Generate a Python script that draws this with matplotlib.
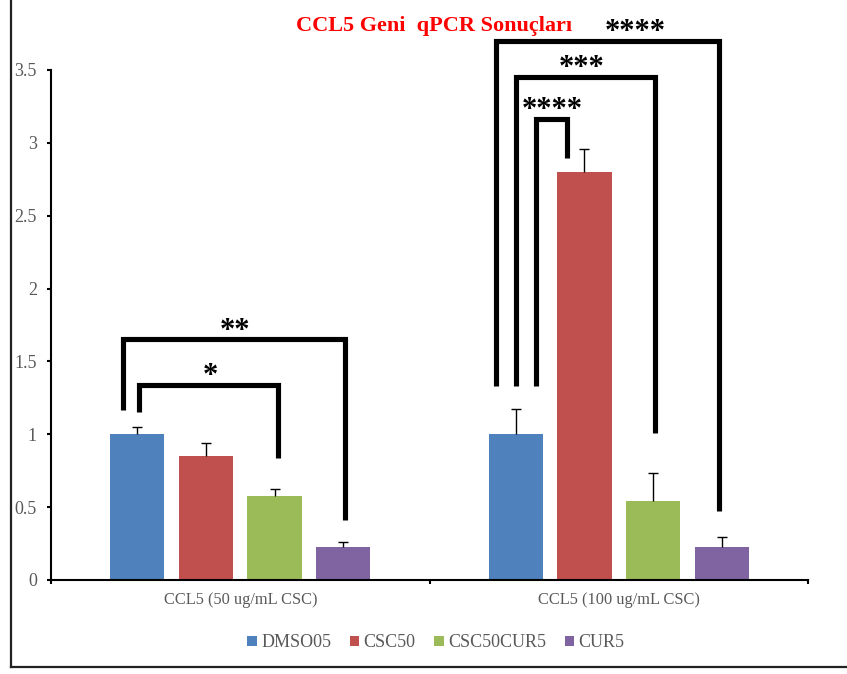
import matplotlib
matplotlib.use("Agg")
import matplotlib.pyplot as plt
from matplotlib.patches import Patch
from matplotlib.lines import Line2D
import numpy as np

# Data
categories = ["CCL5 (50 ug/mL CSC)", "CCL5 (100 ug/mL CSC)"]
series = ["DMSO05", "CSC50", "CSC50CUR5", "CUR5"]
colors = ["#4F81BD", "#C0504D", "#9BBB59", "#8064A2"]
values = {
    "DMSO05":    [1.00, 1.00],
    "CSC50":     [0.85, 2.80],
    "CSC50CUR5": [0.575, 0.545],
    "CUR5":      [0.228, 0.228],
}
errors = {
    "DMSO05":    [0.052, 0.172],
    "CSC50":     [0.090, 0.160],
    "CSC50CUR5": [0.052, 0.188],
    "CUR5":      [0.035, 0.065],
}
ytick_values = [0, 0.5, 1, 1.5, 2, 2.5, 3, 3.5]
ytick_labels = ["0", "0.5", "1", "1.5", "2", "2.5", "3", "3.5"]

# Significance brackets: (group, left bar, right bar, top level, left end, right end, label)
brackets = [
    (0, 0, 3, 1.652, 1.167, 0.412, "**"),
    (0, 0, 2, 1.338, 1.155, 0.835, "*"),
    (1, 0, 3, 3.701, 1.331, 0.474, "****"),
    (1, 0, 2, 3.452, 1.331, 1.011, "***"),
    (1, 0, 1, 3.164, 1.331, 2.898, "****"),
]
# small horizontal nudges of bracket legs and labels (data units)
leg_nudges = [(-0.038, 0.004), (0.004, 0.008), (-0.054, -0.006), (0.0, 0.004), (0.054, -0.045)]
label_x = [-0.014, -0.080, 1.043, 0.902, 0.8255]

SERIF = "Liberation Serif"
GRAY = "#595959"

fig = plt.figure(figsize=(8.47, 6.74), dpi=100)
ax = fig.add_axes([51 / 847, 94 / 674, 757 / 847, 510 / 674])

x = np.arange(len(categories))
width = 0.1427
pitch = 0.181


def bar_center(g, i):
    return x[g] + (i - 1.5) * pitch


for i, s in enumerate(series):
    xs = x + (i - 1.5) * pitch
    ax.bar(xs, values[s], width=width, color=colors[i], linewidth=0, zorder=2)
    eb = ax.errorbar(xs, values[s], yerr=[np.zeros(len(x)), errors[s]],
                     fmt="none", ecolor="black", elinewidth=1.0,
                     capsize=3.8, capthick=1.0, zorder=3)
    # one-sided (plus) error bars: hide the lower caps
    eb[1][0].set_visible(False)

# brackets
for (g, a, b, top, yl, yr, lab), (na, nb), lx in zip(brackets, leg_nudges, label_x):
    xl = bar_center(g, a) + na
    xr = bar_center(g, b) + nb
    ax.plot([xl, xl, xr, xr], [yl, top, top, yr], color="black", lw=3.7,
            solid_joinstyle="miter", solid_capstyle="butt", clip_on=False, zorder=4)
    ax.annotate(lab, xy=(lx, top), xytext=(0, 0.5), textcoords="offset points",
                ha="center", va="baseline", fontsize=22, fontweight="bold",
                family=SERIF, color="black", annotation_clip=False)

ax.set_xlim(-0.5, 1.5)
ax.set_ylim(0, 3.5)

ax.set_yticks(ytick_values)
ax.set_yticklabels(ytick_labels, family=SERIF, fontsize=13, color=GRAY)
ax.tick_params(axis="y", direction="out", length=3.2, width=1.5, pad=7.0, colors="black",
               labelcolor=GRAY)

ax.set_xticks(x)
ax.set_xticklabels(categories, family=SERIF, fontsize=11.8, color=GRAY)
ax.tick_params(axis="x", which="major", length=0, pad=8.5, labelcolor=GRAY)
ax.set_xticks([-0.5, 0.5, 1.5], minor=True)
ax.tick_params(axis="x", which="minor", direction="out", length=3.2, width=1.5, colors="black")

for side in ("top", "right"):
    ax.spines[side].set_visible(False)
for side in ("left", "bottom"):
    ax.spines[side].set_linewidth(1.5)
    ax.spines[side].set_color("black")

fig.text(433.7 / 847, 1 - 25.7 / 674, "CCL5 Geni  qPCR Sonuçları", ha="center", va="center",
         fontsize=16, fontweight="bold", color="#FF0000", family=SERIF)

handles = [Patch(facecolor=c, edgecolor="none") for c in colors]
fig.legend(handles, series, loc="center", bbox_to_anchor=(436 / 847, 1 - 642.7 / 674),
           ncol=4, frameon=False, prop=dict(family=SERIF, size=13),
           handlelength=0.5, handleheight=0.5, handletextpad=0.25,
           columnspacing=1.05, labelcolor=GRAY)

# outer frame (left and bottom edges)
fig.add_artist(Line2D([10.5 / 847, 10.5 / 847], [1 - 667 / 674, 1.0], color="#222222",
                      lw=1.6, transform=fig.transFigure))
fig.add_artist(Line2D([10.5 / 847, 1.0], [1 - 667 / 674, 1 - 667 / 674], color="#222222",
                      lw=1.6, transform=fig.transFigure))

fig.savefig("out.png", dpi=100)
